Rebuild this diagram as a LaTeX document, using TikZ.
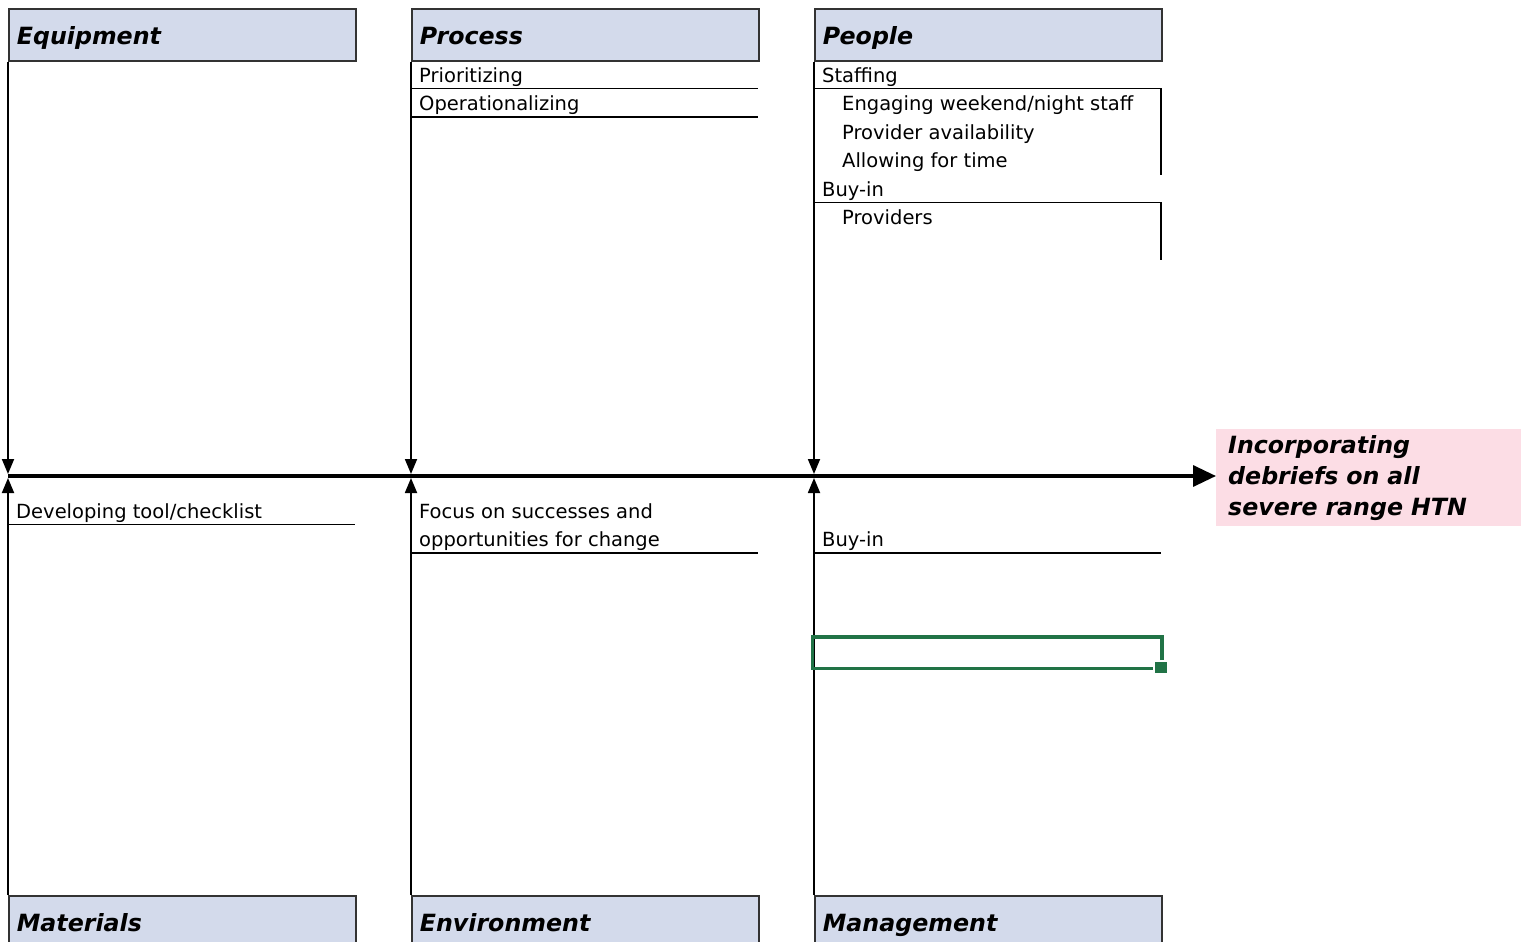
\documentclass[tikz,border=0pt]{standalone}
\usepackage{fontspec}
\setmainfont{DejaVu Sans}
\usetikzlibrary{arrows.meta}
\definecolor{hdrfill}{HTML}{D3DAEB}
\definecolor{hdrline}{HTML}{333333}
\definecolor{effectfill}{HTML}{FCDDE5}
\definecolor{selgreen}{HTML}{217346}
\begin{document}
\begin{tikzpicture}[x=1pt,y=-1pt,
  hdr/.style={draw=hdrline, line width=1.8pt, fill=hdrfill, anchor=north west,
    minimum width=347pt, minimum height=52pt, text width=331pt, inner xsep=8pt,
    text height=17pt, text depth=5pt,
    align=left, font=\fontsize{23.7}{28}\selectfont\bfseries\itshape},
  tophdr/.style={hdr, text height=21pt, text depth=1pt},
  item/.style={anchor=base west, inner sep=0pt, font=\fontsize{19.5}{24}\selectfont},
  uline/.style={line width=1.5pt},
  bone/.style={line width=1.8pt},
  downarr/.style={bone, -{Triangle[length=15pt,width=12pt]}},
  effect/.style={fill=effectfill, anchor=north west, minimum width=305pt,
    minimum height=97pt, text width=293pt, inner xsep=12pt, align=left,
    font=\fontsize{23.7}{31}\selectfont\bfseries\itshape}]
\useasboundingbox (0,0) rectangle (1521,942);
\clip (0,0) rectangle (1521,942);

% category headers
\node[tophdr] (equip) at (8,8) {Equipment};
\node[tophdr] (proc)  at (411,8) {Process};
\node[tophdr] (people) at (814,8) {People};
\node[hdr, minimum height=60pt] (mat)  at (8,895) {Materials};
\node[hdr, minimum height=60pt] (env)  at (411,895) {Environment};
\node[hdr, minimum height=60pt] (mgmt) at (814,895) {Management};

% effect
\node[effect] (eff) at (1216,429) {Incorporating\\debriefs on all\\severe range HTN};

% spine
\coordinate (s0) at (8,476);
\draw[line width=3.4pt, -{Triangle[length=23pt,width=21pt]}] (s0) -- (s0 -| eff.west);

% bones
\coordinate (t1) at (8,474);   \coordinate (b1) at (8,478);
\coordinate (t2) at (411,474); \coordinate (b2) at (411,478);
\coordinate (t3) at (814,474); \coordinate (b3) at (814,478);
\draw[downarr] (equip.south west) -- (t1);
\draw[downarr] (proc.south west) -- (t2);
\draw[downarr] (people.south west) -- (t3);
\draw[downarr] (mat.north west) -- (b1);
\draw[downarr] (env.north west) -- (b2);
\draw[downarr] (mgmt.north west) -- (b3);

% process causes
\node[item] (p1) at (419,82) {Prioritizing};
\draw[uline] (411,88.5) -- (758,88.5);
\node[item] (p2) at (419,110.5) {Operationalizing};
\draw[uline] (411,117) -- (758,117);

% people causes
\node[item] (q1) at (822,82) {Staffing};
\draw[uline] (814,88.5) -- (1161,88.5) -- (1161,175);
\node[item] (q2) at (842,110.5) {Engaging weekend/night staff};
\node[item] (q3) at (842,139) {Provider availability};
\node[item] (q4) at (842,167.5) {Allowing for time};
\node[item] (q5) at (822,196) {Buy-in};
\draw[uline] (814,202.5) -- (1161,202.5) -- (1161,260);
\node[item] (q6) at (842,224.5) {Providers};

% materials causes
\node[item] (m1) at (16,518) {Developing tool/checklist};
\draw[uline] (8,524.5) -- (355,524.5);

% environment causes
\node[item] (e1) at (419,518) {Focus on successes and};
\node[item] (e2) at (419,546.5) {opportunities for change};
\draw[uline] (411,553) -- (758,553);

% management causes
\node[item] (g1) at (822,546.5) {Buy-in};
\draw[uline] (814,553) -- (1161,553);

% selected cell
\draw[selgreen, line width=3.2pt] (1162,660) -- (1162,637) -- (812.5,637) -- (812.5,668.5) -- (1153,668.5);
\fill[selgreen] (1155,662) rectangle (1167,673);
\end{tikzpicture}
\end{document}
